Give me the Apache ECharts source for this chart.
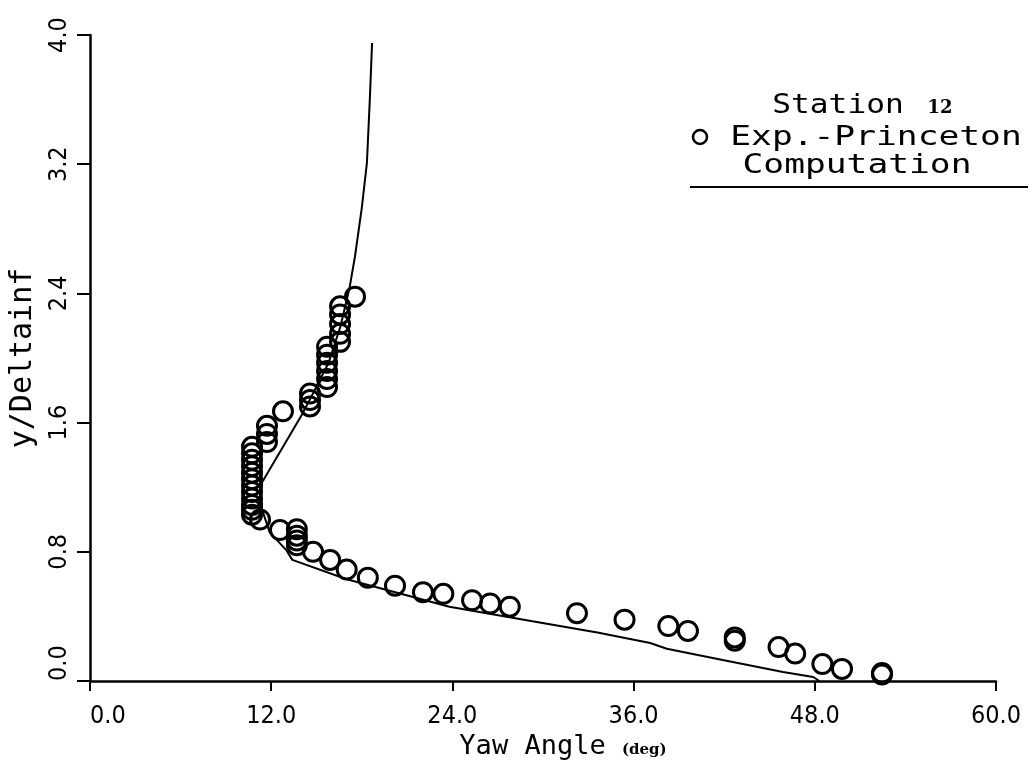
<!DOCTYPE html>
<html>
<head>
<meta charset="utf-8">
<script src="https://cdn.jsdelivr.net/npm/echarts@6/dist/echarts.min.js"></script>
<style>
html, body { margin: 0; padding: 0; background: #fff; }
#main { width: 1036px; height: 769px; }
</style>
</head>
<body>
<div id="main"></div>
<script>
// measured points, Station 12 (yaw angle in deg, y/Deltainf)
const expYaw = [17.55, 16.56, 16.56, 16.56, 16.56, 16.56,
	15.7, 15.7, 15.7, 15.7, 15.7, 15.7,
	14.57, 14.57, 14.57, 12.78,
	11.72, 11.72, 11.72,
	10.73, 10.73, 10.73, 10.73, 10.73, 10.73, 10.73, 10.73, 10.73, 10.73, 10.73, 10.73,
	11.26, 12.58, 13.7, 13.7, 13.7, 13.7,
	14.77, 15.9, 17.0, 18.4, 20.2, 22.05, 23.4, 25.3, 26.5, 27.8,
	32.25, 35.4, 38.3, 39.6, 42.7, 42.7, 45.6, 46.7, 48.5, 49.8, 52.45, 52.45];
const expY = [2.38, 2.32, 2.27, 2.21, 2.15, 2.10,
	2.07, 2.02, 1.97, 1.92, 1.87, 1.82,
	1.78, 1.74, 1.70, 1.67,
	1.58, 1.53, 1.48,
	1.45, 1.41, 1.37, 1.33, 1.29, 1.25, 1.21, 1.17, 1.13, 1.09, 1.06, 1.03,
	1.00, 0.935, 0.94, 0.90, 0.87, 0.84,
	0.80, 0.75, 0.69, 0.64, 0.59, 0.55, 0.54, 0.50, 0.48, 0.46,
	0.42, 0.38, 0.34, 0.31, 0.27, 0.25, 0.21, 0.17, 0.105, 0.075, 0.05, 0.04];

// computed profile
const compYaw = [18.68, 18.54, 18.34, 18.0, 17.55, 17.2, 16.6, 15.8, 14.6, 14.04,
	11.4, 11.3, 11.4, 11.9, 13.0, 13.4, 17.0, 23.8, 29.3, 33.6, 37.1, 38.2, 41.9, 45.9, 47.9, 48.3];
const compY = [3.95, 3.62, 3.21, 2.93, 2.63, 2.44, 2.2, 1.97, 1.75, 1.65,
	1.23, 1.16, 1.06, 0.92, 0.81, 0.75, 0.63, 0.46, 0.37, 0.30, 0.235, 0.20, 0.13, 0.056, 0.025, 0.0];

const xTicks = [0, 12, 24, 36, 48, 60];
const yTicks = [0, 0.8, 1.6, 2.4, 3.2, 4.0];

const expData = expYaw.map((v, i) => [v, expY[i]]);
const compData = compYaw.map((v, i) => [v, compY[i]]);

const mono = '"DejaVu Sans Mono", monospace';
const narrow = '"Liberation Sans Narrow", "DejaVu Sans Condensed", "DejaVu Sans Mono", monospace';
// plotter lettering is wide and short: squash a mono font sideways
const legendFont = '26px "DejaVu Sans Mono"';
const stretch = 1.33;

const myChart = echarts.init(document.getElementById('main'));

option = {
	backgroundColor: '#fff',
	animation: false,
	grid: {
		left: 90,
		right: 40,
		top: 35,
		bottom: 88,
		outerBoundsMode: 'none'
	},
	xAxis: {
		type: 'value',
		min: xTicks[0],
		max: xTicks[xTicks.length - 1],
		interval: 12,
		name: '{a|Yaw Angle }{b|(deg)}',
		nameLocation: 'middle',
		nameGap: 52,
		nameTextStyle: {
			padding: [0, 0, 0, 40],
			rich: {
				a: { fontFamily: mono, fontSize: 27, color: '#000' },
				b: { fontFamily: '"DejaVu Serif", serif', fontWeight: 'bold', fontSize: 15, color: '#000', padding: [6, 0, 0, 0] }
			}
		},
		axisLine: { onZero: false, lineStyle: { color: '#000', width: 2.5 } },
		axisTick: { length: 10, lineStyle: { color: '#000', width: 2 } },
		axisLabel: {
			color: '#000',
			fontFamily: narrow,
			fontSize: 25,
			margin: 23,
			alignMinLabel: 'left',
			formatter: v => v.toFixed(1)
		},
		splitLine: { show: false }
	},
	yAxis: {
		type: 'value',
		min: yTicks[0],
		max: yTicks[yTicks.length - 1],
		interval: 0.8,
		name: 'y/Deltainf',
		nameLocation: 'middle',
		nameRotate: 90,
		nameGap: 52,
		nameTextStyle: { fontFamily: mono, fontSize: 30, color: '#000' },
		axisLine: { onZero: false, lineStyle: { color: '#000', width: 2.5 } },
		axisTick: { length: 13, lineStyle: { color: '#000', width: 2 } },
		axisLabel: {
			color: '#000',
			fontFamily: narrow,
			fontSize: 25,
			rotate: 90,
			margin: 18,
			alignMinLabel: 'left',
			formatter: v => v.toFixed(1)
		},
		splitLine: { show: false }
	},
	graphic: [
		{ type: 'text', x: 838, y: 106, scaleX: 1.2, style: { text: 'Station', x: 0, y: 0, font: legendFont, fill: '#000', align: 'center', verticalAlign: 'middle' } },
		{ type: 'text', x: 940, y: 108, style: { text: '12', x: 0, y: 0, font: 'bold 18px "DejaVu Serif"', fill: '#000', align: 'center', verticalAlign: 'middle' } },
		{ type: 'circle', shape: { cx: 700, cy: 137, r: 7 }, style: { fill: 'none', stroke: '#000', lineWidth: 2.5 } },
		{ type: 'text', x: 876, y: 138, scaleX: stretch, style: { text: 'Exp.-Princeton', x: 0, y: 0, font: legendFont, fill: '#000', align: 'center', verticalAlign: 'middle' } },
		{ type: 'text', x: 857, y: 166, scaleX: stretch, style: { text: 'Computation', x: 0, y: 0, font: legendFont, fill: '#000', align: 'center', verticalAlign: 'middle' } },
		{ type: 'line', shape: { x1: 690, y1: 187, x2: 1028, y2: 187 }, style: { stroke: '#000', lineWidth: 2 } }
	],
	series: [
		{
			name: 'Computation',
			type: 'line',
			data: compData,
			showSymbol: false,
			lineStyle: { color: '#000', width: 2 },
			z: 2
		},
		{
			name: 'Exp.-Princeton',
			type: 'scatter',
			data: expData,
			symbol: 'circle',
			symbolSize: 19,
			itemStyle: { color: 'rgba(255,255,255,0)', borderColor: '#000', borderWidth: 3, opacity: 1 },
			z: 3
		}
	]
};

myChart.setOption(option);
</script>
</body>
</html>
